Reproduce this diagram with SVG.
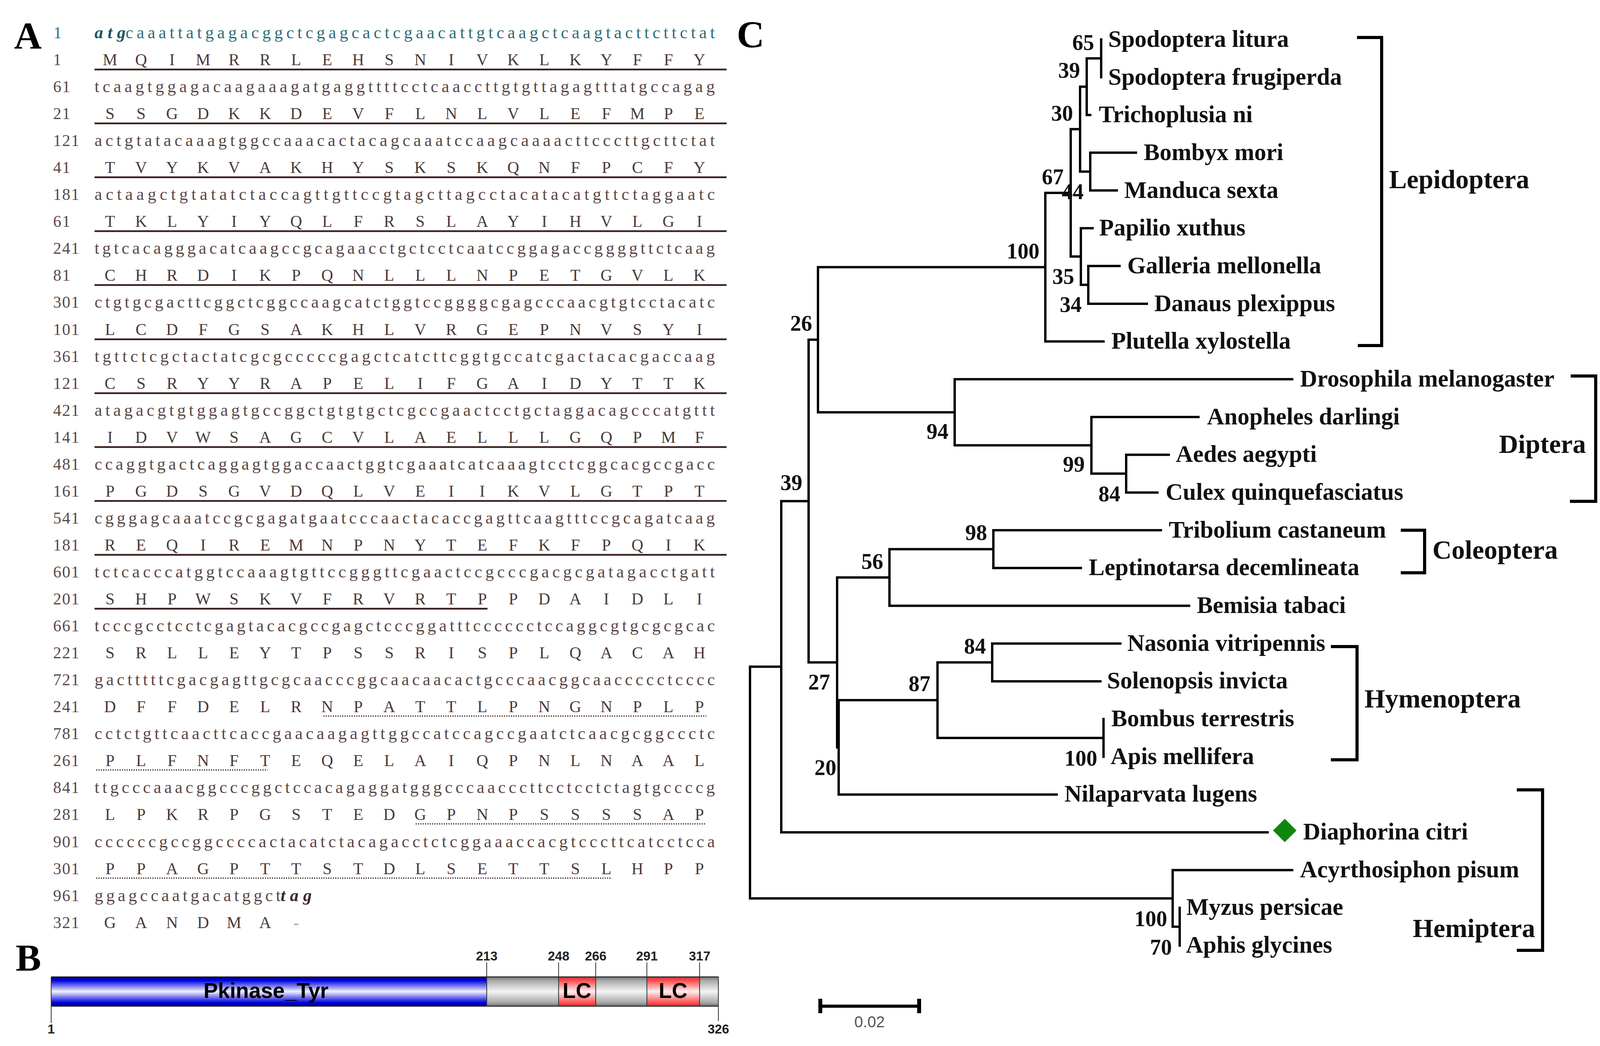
<svg xmlns="http://www.w3.org/2000/svg" width="4364" height="2679" viewBox="0 0 4364 2679">
<defs>
<style>
.num{font-family:"Liberation Serif",serif;font-size:42px;fill:#5a4848;letter-spacing:2px}
.num1{font-family:"Liberation Serif",serif;font-size:42px;fill:#2e6e76}
.dna{font-family:"Liberation Serif",serif;font-size:44px;fill:#5a4848}
.dna1{font-family:"Liberation Serif",serif;font-size:44px;fill:#2e6e76}
.start{font-family:"Liberation Serif",serif;font-size:44px;font-weight:bold;font-style:italic;fill:#1c5560}
.stop{font-family:"Liberation Serif",serif;font-size:44px;font-weight:bold;font-style:italic;fill:#3a2a2a}
.aa{font-family:"Liberation Serif",serif;font-size:42px;fill:#4a3a3a;text-anchor:middle}
.ul{stroke:#3a2020;stroke-width:4.5}
.dot{stroke:#6a5858;stroke-width:4;stroke-dasharray:3 3}
.panel{font-family:"Liberation Serif",serif;font-weight:bold;font-size:98px;fill:#000}
.br{fill:none;stroke:#000;stroke-width:6;stroke-linecap:square}
.leaf{font-family:"Liberation Serif",serif;font-weight:bold;font-size:61px;fill:#111}
.bs{font-family:"Liberation Serif",serif;font-weight:bold;font-size:56px;fill:#111;text-anchor:end}
.ord{font-family:"Liberation Serif",serif;font-weight:bold;font-size:68px;fill:#111}
.bracket{fill:none;stroke:#000;stroke-width:8}
.tick{stroke:#333;stroke-width:2}
.tl{font-family:"Liberation Sans",sans-serif;font-weight:bold;font-size:33px;fill:#222;text-anchor:middle}
.dom{font-family:"Liberation Sans",sans-serif;font-weight:bold;font-size:55px;fill:#000;text-anchor:middle}
</style>
<linearGradient id="gBlue" x1="0" y1="0" x2="0" y2="1">
<stop offset="0" stop-color="#00008a"/><stop offset="0.12" stop-color="#0000e0"/><stop offset="0.5" stop-color="#f2f2ff"/><stop offset="0.88" stop-color="#0000e0"/><stop offset="1" stop-color="#00008a"/>
</linearGradient>
<linearGradient id="gGray" x1="0" y1="0" x2="0" y2="1">
<stop offset="0" stop-color="#6e6e6e"/><stop offset="0.12" stop-color="#a8a8a8"/><stop offset="0.5" stop-color="#f4f4f4"/><stop offset="0.88" stop-color="#a8a8a8"/><stop offset="1" stop-color="#6e6e6e"/>
</linearGradient>
<linearGradient id="gRed" x1="0" y1="0" x2="0" y2="1">
<stop offset="0" stop-color="#d03030"/><stop offset="0.12" stop-color="#ff4a4a"/><stop offset="0.5" stop-color="#fff0f0"/><stop offset="0.88" stop-color="#ff5050"/><stop offset="1" stop-color="#d03030"/>
</linearGradient>
</defs>
<rect width="4364" height="2679" fill="#fff"/>

<g id="panelA">
<text class="panel" x="36" y="124">A</text>
<g id="numbers">
<text class="num1" x="137" y="98">1</text>
<text class="num" x="136" y="167">1</text>
<text class="num" x="136" y="236">61</text>
<text class="num" x="136" y="305">21</text>
<text class="num" x="136" y="374">121</text>
<text class="num" x="136" y="443">41</text>
<text class="num" x="136" y="512">181</text>
<text class="num" x="136" y="581">61</text>
<text class="num" x="136" y="650">241</text>
<text class="num" x="136" y="719">81</text>
<text class="num" x="136" y="788">301</text>
<text class="num" x="136" y="858">101</text>
<text class="num" x="136" y="927">361</text>
<text class="num" x="136" y="996">121</text>
<text class="num" x="136" y="1065">421</text>
<text class="num" x="136" y="1134">141</text>
<text class="num" x="136" y="1203">481</text>
<text class="num" x="136" y="1272">161</text>
<text class="num" x="136" y="1341">541</text>
<text class="num" x="136" y="1410">181</text>
<text class="num" x="136" y="1479">601</text>
<text class="num" x="136" y="1548">201</text>
<text class="num" x="136" y="1617">661</text>
<text class="num" x="136" y="1686">221</text>
<text class="num" x="136" y="1755">721</text>
<text class="num" x="136" y="1824">241</text>
<text class="num" x="136" y="1893">781</text>
<text class="num" x="136" y="1962">261</text>
<text class="num" x="136" y="2031">841</text>
<text class="num" x="136" y="2100">281</text>
<text class="num" x="136" y="2170">901</text>
<text class="num" x="136" y="2239">301</text>
<text class="num" x="136" y="2308">961</text>
<text class="num" x="136" y="2377">321</text>
</g>
<g id="dna">
<text class="start" x="242" y="98" textLength="79.4" lengthAdjust="spacing">atg</text>
<text class="dna1" x="321.4" y="98" textLength="1508.8" lengthAdjust="spacing">caaattatgagacggctcgagcactcgaacattgtcaagctcaagtacttcttctat</text>
<text class="dna" x="242" y="236" textLength="1588" lengthAdjust="spacing">tcaagtggagacaagaaagatgaggttttcctcaaccttgtgttagagtttatgccagag</text>
<text class="dna" x="242" y="374" textLength="1588" lengthAdjust="spacing">actgtatacaaagtggccaaacactacagcaaatccaagcaaaacttcccttgcttctat</text>
<text class="dna" x="242" y="512" textLength="1588" lengthAdjust="spacing">actaagctgtatatctaccagttgttccgtagcttagcctacatacatgttctaggaatc</text>
<text class="dna" x="242" y="650" textLength="1588" lengthAdjust="spacing">tgtcacagggacatcaagccgcagaacctgctcctcaatccggagaccggggttctcaag</text>
<text class="dna" x="242" y="788" textLength="1588" lengthAdjust="spacing">ctgtgcgacttcggctcggccaagcatctggtccggggcgagcccaacgtgtcctacatc</text>
<text class="dna" x="242" y="927" textLength="1588" lengthAdjust="spacing">tgttctcgctactatcgcgcccccgagctcatcttcggtgccatcgactacacgaccaag</text>
<text class="dna" x="242" y="1065" textLength="1588" lengthAdjust="spacing">atagacgtgtggagtgccggctgtgtgctcgccgaactcctgctaggacagcccatgttt</text>
<text class="dna" x="242" y="1203" textLength="1588" lengthAdjust="spacing">ccaggtgactcaggagtggaccaactggtcgaaatcatcaaagtcctcggcacgccgacc</text>
<text class="dna" x="242" y="1341" textLength="1588" lengthAdjust="spacing">cgggagcaaatccgcgagatgaatcccaactacaccgagttcaagtttccgcagatcaag</text>
<text class="dna" x="242" y="1479" textLength="1588" lengthAdjust="spacing">tctcacccatggtccaaagtgttccgggttcgaactccgcccgacgcgatagacctgatt</text>
<text class="dna" x="242" y="1617" textLength="1588" lengthAdjust="spacing">tcccgcctcctcgagtacacgccgagctcccggatttcccccctccaggcgtgcgcgcac</text>
<text class="dna" x="242" y="1755" textLength="1588" lengthAdjust="spacing">gactttttcgacgagttgcgcaacccggcaacaacactgcccaacggcaaccccctcccc</text>
<text class="dna" x="242" y="1893" textLength="1588" lengthAdjust="spacing">cctctgttcaacttcaccgaacaagagttggccatccagccgaatctcaacgcggccctc</text>
<text class="dna" x="242" y="2031" textLength="1588" lengthAdjust="spacing">ttgcccaaacggcccggctccacagaggatgggcccaacccttcctcctctagtgccccg</text>
<text class="dna" x="242" y="2170" textLength="1588" lengthAdjust="spacing">ccccccgccggccccactacatctacagacctctcggaaaccacgtcccttcatcctcca</text>
<text class="dna" x="242" y="2308" textLength="476.5" lengthAdjust="spacing">ggagccaatgacatggct</text>
<text class="stop" x="718.5" y="2308" textLength="79.4" lengthAdjust="spacing">tag</text>
</g>
<g id="protein">
<text class="aa" y="167" x="281.7 361.1 440.5 519.9 599.3 678.8 758.2 837.6 917 996.4 1075.8 1155.2 1234.6 1314 1393.4 1472.9 1552.3 1631.7 1711.1 1790.5">MQIMRRLEHSNIVKLKYFFY</text>
<text class="aa" y="305" x="281.7 361.1 440.5 519.9 599.3 678.8 758.2 837.6 917 996.4 1075.8 1155.2 1234.6 1314 1393.4 1472.9 1552.3 1631.7 1711.1 1790.5">SSGDKKDEVFLNLVLEFMPE</text>
<text class="aa" y="443" x="281.7 361.1 440.5 519.9 599.3 678.8 758.2 837.6 917 996.4 1075.8 1155.2 1234.6 1314 1393.4 1472.9 1552.3 1631.7 1711.1 1790.5">TVYKVAKHYSKSKQNFPCFY</text>
<text class="aa" y="581" x="281.7 361.1 440.5 519.9 599.3 678.8 758.2 837.6 917 996.4 1075.8 1155.2 1234.6 1314 1393.4 1472.9 1552.3 1631.7 1711.1 1790.5">TKLYIYQLFRSLAYIHVLGI</text>
<text class="aa" y="719" x="281.7 361.1 440.5 519.9 599.3 678.8 758.2 837.6 917 996.4 1075.8 1155.2 1234.6 1314 1393.4 1472.9 1552.3 1631.7 1711.1 1790.5">CHRDIKPQNLLLNPETGVLK</text>
<text class="aa" y="858" x="281.7 361.1 440.5 519.9 599.3 678.8 758.2 837.6 917 996.4 1075.8 1155.2 1234.6 1314 1393.4 1472.9 1552.3 1631.7 1711.1 1790.5">LCDFGSAKHLVRGEPNVSYI</text>
<text class="aa" y="996" x="281.7 361.1 440.5 519.9 599.3 678.8 758.2 837.6 917 996.4 1075.8 1155.2 1234.6 1314 1393.4 1472.9 1552.3 1631.7 1711.1 1790.5">CSRYYRAPELIFGAIDYTTK</text>
<text class="aa" y="1134" x="281.7 361.1 440.5 519.9 599.3 678.8 758.2 837.6 917 996.4 1075.8 1155.2 1234.6 1314 1393.4 1472.9 1552.3 1631.7 1711.1 1790.5">IDVWSAGCVLAELLLGQPMF</text>
<text class="aa" y="1272" x="281.7 361.1 440.5 519.9 599.3 678.8 758.2 837.6 917 996.4 1075.8 1155.2 1234.6 1314 1393.4 1472.9 1552.3 1631.7 1711.1 1790.5">PGDSGVDQLVEIIKVLGTPT</text>
<text class="aa" y="1410" x="281.7 361.1 440.5 519.9 599.3 678.8 758.2 837.6 917 996.4 1075.8 1155.2 1234.6 1314 1393.4 1472.9 1552.3 1631.7 1711.1 1790.5">REQIREMNPNYTEFKFPQIK</text>
<text class="aa" y="1548" x="281.7 361.1 440.5 519.9 599.3 678.8 758.2 837.6 917 996.4 1075.8 1155.2 1234.6 1314 1393.4 1472.9 1552.3 1631.7 1711.1 1790.5">SHPWSKVFRVRTPPDAIDLI</text>
<text class="aa" y="1686" x="281.7 361.1 440.5 519.9 599.3 678.8 758.2 837.6 917 996.4 1075.8 1155.2 1234.6 1314 1393.4 1472.9 1552.3 1631.7 1711.1 1790.5">SRLLEYTPSSRISPLQACAH</text>
<text class="aa" y="1824" x="281.7 361.1 440.5 519.9 599.3 678.8 758.2 837.6 917 996.4 1075.8 1155.2 1234.6 1314 1393.4 1472.9 1552.3 1631.7 1711.1 1790.5">DFFDELRNPATTLPNGNPLP</text>
<text class="aa" y="1962" x="281.7 361.1 440.5 519.9 599.3 678.8 758.2 837.6 917 996.4 1075.8 1155.2 1234.6 1314 1393.4 1472.9 1552.3 1631.7 1711.1 1790.5">PLFNFTEQELAIQPNLNAAL</text>
<text class="aa" y="2100" x="281.7 361.1 440.5 519.9 599.3 678.8 758.2 837.6 917 996.4 1075.8 1155.2 1234.6 1314 1393.4 1472.9 1552.3 1631.7 1711.1 1790.5">LPKRPGSTEDGPNPSSSSAP</text>
<text class="aa" y="2239" x="281.7 361.1 440.5 519.9 599.3 678.8 758.2 837.6 917 996.4 1075.8 1155.2 1234.6 1314 1393.4 1472.9 1552.3 1631.7 1711.1 1790.5">PPAGPTTSTDLSETTSLHPP</text>
<text class="aa" y="2377" x="281.7 361.1 440.5 519.9 599.3 678.8 758.2">GANDMA<tspan fill="#8aa8a8">-</tspan></text>
</g>
<g id="underlines">
<line class="ul" x1="242" y1="178" x2="1860" y2="178"/>
<line class="ul" x1="242" y1="316" x2="1860" y2="316"/>
<line class="ul" x1="242" y1="454" x2="1860" y2="454"/>
<line class="ul" x1="242" y1="592" x2="1860" y2="592"/>
<line class="ul" x1="242" y1="730" x2="1860" y2="730"/>
<line class="ul" x1="242" y1="869" x2="1860" y2="869"/>
<line class="ul" x1="242" y1="1007" x2="1860" y2="1007"/>
<line class="ul" x1="242" y1="1145" x2="1860" y2="1145"/>
<line class="ul" x1="242" y1="1283" x2="1860" y2="1283"/>
<line class="ul" x1="242" y1="1421" x2="1860" y2="1421"/>
<line class="ul" x1="242" y1="1559" x2="1248" y2="1559"/>
<line class="dot" x1="828" y1="1834" x2="1808" y2="1834"/>
<line class="dot" x1="246" y1="1972" x2="685" y2="1972"/>
<line class="dot" x1="1064" y1="2110" x2="1808" y2="2110"/>
<line class="dot" x1="246" y1="2249" x2="1566" y2="2249"/>
</g>
</g>

<g id="panelB">
<text class="panel" x="40" y="2486">B</text>
<g id="domain-bar">
<rect x="131" y="2502" width="1708" height="75" fill="url(#gGray)"/>
<rect id="pkinase" x="131" y="2502" width="1115" height="75" fill="url(#gBlue)"/>
<rect id="lc1" x="1430" y="2502" width="95" height="75" fill="url(#gRed)"/>
<rect id="lc2" x="1656" y="2502" width="135" height="75" fill="url(#gRed)"/>
<line x1="131" y1="2502" x2="1839" y2="2502" stroke="#222" stroke-width="2.5"/>
<line x1="131" y1="2577" x2="1839" y2="2577" stroke="#222" stroke-width="2.5"/>
<line class="tick" x1="1246" y1="2465" x2="1246" y2="2577"/>
<line class="tick" x1="1430" y1="2465" x2="1430" y2="2577"/>
<line class="tick" x1="1525" y1="2465" x2="1525" y2="2577"/>
<line class="tick" x1="1656" y1="2465" x2="1656" y2="2577"/>
<line class="tick" x1="1791" y1="2465" x2="1791" y2="2577"/>
<line class="tick" x1="131" y1="2502" x2="131" y2="2620"/>
<line class="tick" x1="1839" y1="2502" x2="1839" y2="2615"/>
<text class="dom" x="681" y="2556">Pkinase_Tyr</text>
<text class="dom" x="1477" y="2556">LC</text>
<text class="dom" x="1723" y="2556">LC</text>
<text class="tl" x="1246" y="2460">213</text>
<text class="tl" x="1430" y="2460">248</text>
<text class="tl" x="1525" y="2460">266</text>
<text class="tl" x="1656" y="2460">291</text>
<text class="tl" x="1791" y="2460">317</text>
<text class="tl" x="131" y="2647">1</text>
<text class="tl" x="1839" y="2647">326</text>
</g>
</g>

<g id="panelC">
<text class="panel" x="1886" y="121">C</text>
<g id="connectors">
<path class="br" d="M2819,101 V197.7 M2782,149.4 H2819 M2782,149.4 V294.4 H2791 M2765,221.9 H2782 M2765,221.9 V439.5 H2791 M2791,391.1 V487.8 M2791,391.1 H2908 M2791,487.8 H2859 M2741,330.7 H2765 M2741,330.7 V657 H2767 M2767,584.5 V729.6 M2767,584.5 H2797 M2767,729.6 H2786 M2786,681.2 V777.9 M2786,681.2 H2866 M2786,777.9 H2936 M2676,493.9 H2741 M2676,493.9 V874.6 H2825 M2094,684.3 H2676 M2094,684.3 V1055.9 H2444 M2444,971.3 V1140.5 M2444,971.3 H3308 M2444,1140.5 H2794 M2794,1068 V1213 M2794,1068 H3068 M2794,1213 H2883 M2883,1164.7 V1261.4 M2883,1164.7 H2992 M2883,1261.4 H2963 M2070,870.1 H2094 M2070,870.1 V1696.6 H2143 M2143,1479 V1914.2 H2147 M2143,1479 H2277 M2277,1406.5 V1551.5 H3044 M2277,1406.5 H2543 M2543,1358.1 V1454.8 H2767 M2543,1358.1 H2972 M2147,1793.3 V2035 H2705 M2147,1793.3 H2400 M2400,1696.6 V1890 H2825 M2400,1696.6 H2540 M2540,1648.2 V1744.9 H2817 M2540,1648.2 H2868 M2825,1841.6 V1938.3 M2000,1283.4 H2070 M2000,1283.4 V2131.7 H3245 M1920,1707.6 H2000 M1920,1707.6 V2301 H3002 M3002,2228.4 V2373.5 H3020 M3002,2228.4 H3308 M3020,2325.1 V2421.8"/>
</g>
<g id="bootstrap">
<text class="bs" x="2801" y="128">65</text>
<text class="bs" x="2765" y="199">39</text>
<text class="bs" x="2747" y="309">30</text>
<text class="bs" x="2723" y="472">67</text>
<text class="bs" x="2774" y="510">44</text>
<text class="bs" x="2661" y="662">100</text>
<text class="bs" x="2750" y="727">35</text>
<text class="bs" x="2769" y="799">34</text>
<text class="bs" x="2079" y="847">26</text>
<text class="bs" x="2428" y="1124">94</text>
<text class="bs" x="2777" y="1208">99</text>
<text class="bs" x="2054" y="1255">39</text>
<text class="bs" x="2868" y="1284">84</text>
<text class="bs" x="2527" y="1383">98</text>
<text class="bs" x="2261" y="1457">56</text>
<text class="bs" x="2524" y="1674">84</text>
<text class="bs" x="2125" y="1766">27</text>
<text class="bs" x="2382" y="1770">87</text>
<text class="bs" x="2809" y="1961">100</text>
<text class="bs" x="2141" y="1985">20</text>
<text class="bs" x="2988" y="2372">100</text>
<text class="bs" x="3000" y="2445">70</text>
</g>
<g id="leaf-spodoptera-litura"><text class="leaf" x="2837" y="120">Spodoptera litura</text></g>
<g id="leaf-spodoptera-frugiperda"><text class="leaf" x="2837" y="217">Spodoptera frugiperda</text></g>
<g id="leaf-trichoplusia-ni"><text class="leaf" x="2813" y="313">Trichoplusia ni</text></g>
<g id="leaf-bombyx-mori"><text class="leaf" x="2928" y="410">Bombyx mori</text></g>
<g id="leaf-manduca-sexta"><text class="leaf" x="2878" y="507">Manduca sexta</text></g>
<g id="leaf-papilio-xuthus"><text class="leaf" x="2814" y="603">Papilio xuthus</text></g>
<g id="leaf-galleria-mellonella"><text class="leaf" x="2886" y="700">Galleria mellonella</text></g>
<g id="leaf-danaus-plexippus"><text class="leaf" x="2955" y="797">Danaus plexippus</text></g>
<g id="leaf-plutella-xylostella"><text class="leaf" x="2845" y="893">Plutella xylostella</text></g>
<g id="leaf-drosophila-melanogaster"><text class="leaf" x="3328" y="990">Drosophila melanogaster</text></g>
<g id="leaf-anopheles-darlingi"><text class="leaf" x="3090" y="1087">Anopheles darlingi</text></g>
<g id="leaf-aedes-aegypti"><text class="leaf" x="3010" y="1183">Aedes aegypti</text></g>
<g id="leaf-culex-quinquefasciatus"><text class="leaf" x="2984" y="1280">Culex quinquefasciatus</text></g>
<g id="leaf-tribolium-castaneum"><text class="leaf" x="2992" y="1377">Tribolium castaneum</text></g>
<g id="leaf-leptinotarsa-decemlineata"><text class="leaf" x="2787" y="1473">Leptinotarsa decemlineata</text></g>
<g id="leaf-bemisia-tabaci"><text class="leaf" x="3064" y="1570">Bemisia tabaci</text></g>
<g id="leaf-nasonia-vitripennis"><text class="leaf" x="2886" y="1667">Nasonia vitripennis</text></g>
<g id="leaf-solenopsis-invicta"><text class="leaf" x="2834" y="1763">Solenopsis invicta</text></g>
<g id="leaf-bombus-terrestris"><text class="leaf" x="2845" y="1860">Bombus terrestris</text></g>
<g id="leaf-apis-mellifera"><text class="leaf" x="2843" y="1957">Apis mellifera</text></g>
<g id="leaf-nilaparvata-lugens"><text class="leaf" x="2725" y="2053">Nilaparvata lugens</text></g>
<g id="leaf-diaphorina-citri">
<polygon points="3289,2097 3319,2127 3289,2157 3259,2127" fill="#0e870e"/>
<text class="leaf" x="3336" y="2150">Diaphorina citri</text>
</g>
<g id="leaf-acyrthosiphon-pisum"><text class="leaf" x="3328" y="2247">Acyrthosiphon pisum</text></g>
<g id="leaf-myzus-persicae"><text class="leaf" x="3037" y="2343">Myzus persicae</text></g>
<g id="leaf-aphis-glycines"><text class="leaf" x="3036" y="2440">Aphis glycines</text></g>
<g id="order-lepidoptera"><path class="bracket" d="M3474,96 H3537 V885 H3476"/><text class="ord" x="3556" y="482">Lepidoptera</text></g>
<g id="order-diptera"><path class="bracket" d="M4021,963 H4085 V1284 H4019"/><text class="ord" x="4060" y="1160" text-anchor="end">Diptera</text></g>
<g id="order-coleoptera"><path class="bracket" d="M3586,1358 H3647 V1467 H3586"/><text class="ord" x="3667" y="1431">Coleoptera</text></g>
<g id="order-hymenoptera"><path class="bracket" d="M3407,1656 H3474 V1946 H3407"/><text class="ord" x="3493" y="1812">Hymenoptera</text></g>
<g id="order-hemiptera"><path class="bracket" d="M3883,2023 H3949 V2434 H3883"/><text class="ord" x="3930" y="2400" text-anchor="end">Hemiptera</text></g>
<g id="scale-bar">
<line x1="2100" y1="2577" x2="2353" y2="2577" stroke="#000" stroke-width="8"/>
<line x1="2100" y1="2558" x2="2100" y2="2595" stroke="#000" stroke-width="10"/>
<line x1="2353" y1="2558" x2="2353" y2="2595" stroke="#000" stroke-width="10"/>
<text x="2226" y="2631" font-family="Liberation Sans, sans-serif" font-size="40" fill="#555" text-anchor="middle">0.02</text>
</g>
</g>
</svg>
